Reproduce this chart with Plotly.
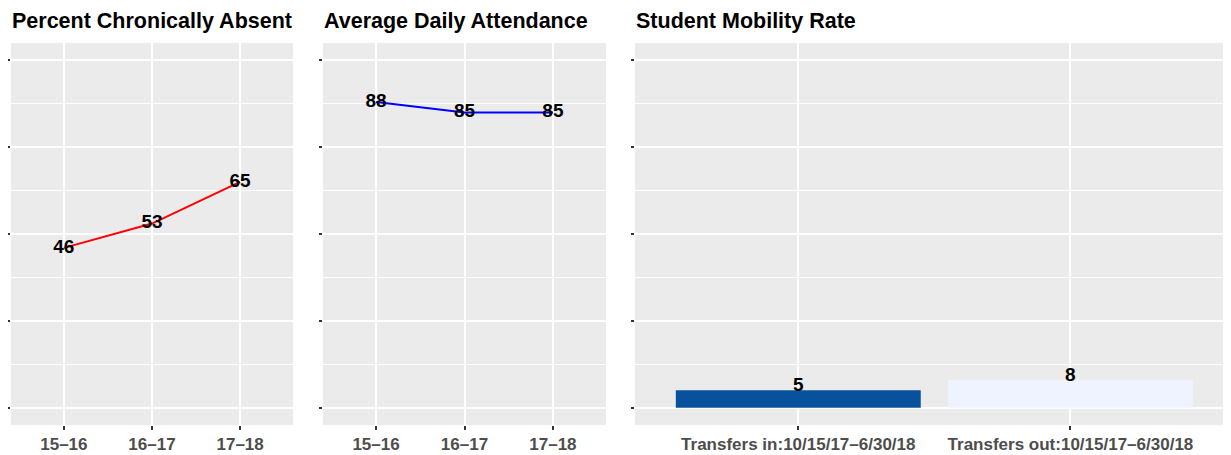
import plotly.graph_objects as go

# ---- data ----
years = ["15–16", "16–17", "17–18"]
chronic_absent = [46, 53, 65]
daily_attendance = [88, 85, 85]
mobility_cats = ["Transfers in:10/15/17–6/30/18", "Transfers out:10/15/17–6/30/18"]
mobility_vals = [5, 8]
panel_titles = ["Percent Chronically Absent", "Average Daily Attendance", "Student Mobility Rate"]

FONT = "Liberation Sans, Arial, sans-serif"
OFF = 8  # page body margin in the browser
W, H = 1231 - OFF, 455 - OFF
ML, MR, MT, MB = 11 - OFF, 0, 43 - OFF, 30
PW = W - ML - MR
PH = H - MT - MB

def dom(a, b):
    return [(a - OFF - ML) / PW, min(1.0, (b - OFF - ML) / PW)]

d1 = dom(11, 293)
d2 = dom(323, 606)
d3 = dom(635, 1231)

fig = go.Figure()

fig.add_trace(go.Scatter(
    x=years, y=chronic_absent, mode="lines+text", text=[str(v) for v in chronic_absent],
    textposition="middle center", line=dict(color="#FF0000", width=2),
    textfont=dict(family=FONT, size=19, color="black", weight="bold"),
    xaxis="x", yaxis="y", showlegend=False, cliponaxis=False))

fig.add_trace(go.Scatter(
    x=years, y=daily_attendance, mode="lines+text", text=[str(v) for v in daily_attendance],
    textposition="middle center", line=dict(color="#0000FF", width=2),
    textfont=dict(family=FONT, size=19, color="black", weight="bold"),
    xaxis="x2", yaxis="y2", showlegend=False, cliponaxis=False))

fig.add_trace(go.Bar(
    x=mobility_cats, y=mobility_vals, width=0.9,
    marker=dict(color=["#08519C", "#EFF3FF"], line=dict(width=0)),
    xaxis="x3", yaxis="y3", showlegend=False))

for c, v in zip(mobility_cats, mobility_vals):
    fig.add_annotation(x=c, y=v, xref="x3", yref="y3", text=str(v), showarrow=False,
                       yanchor="bottom", yshift=-7,
                       font=dict(family=FONT, size=19, color="black", weight="bold"))

common_x = dict(
    type="category", showgrid=True, gridcolor="white", gridwidth=2, zeroline=False,
    ticks="outside", ticklen=4, tickwidth=1.5, tickcolor="#333333", showline=False,
    tickfont=dict(family=FONT, size=17, color="#4D4D4D", weight="bold"), fixedrange=True)
common_y = dict(
    range=[-5, 105], tickvals=[0, 25, 50, 75, 100], showticklabels=False,
    showgrid=True, gridcolor="white", gridwidth=2, zeroline=False,
    ticks="outside", ticklen=3, tickwidth=1.5, tickcolor="#333333", showline=False,
    minor=dict(tickvals=[12.5, 37.5, 62.5, 87.5], showgrid=True, gridcolor="white", gridwidth=1, ticks=""),
    fixedrange=True)

fig.update_layout(
    width=W, height=H,
    margin=dict(l=ML, r=MR, t=MT, b=MB),
    paper_bgcolor="white", plot_bgcolor="white",
    bargap=0.1,
    xaxis=dict(domain=d1, anchor="y", range=[-0.6, 2.6], **common_x),
    xaxis2=dict(domain=d2, anchor="y2", range=[-0.6, 2.6], **common_x),
    xaxis3=dict(domain=d3, anchor="y3", range=[-0.6, 1.59], **common_x),
    yaxis=dict(domain=[0, 1], anchor="x", **common_y),
    yaxis2=dict(domain=[0, 1], anchor="x2", **common_y),
    yaxis3=dict(domain=[0, 1], anchor="x3", **common_y),
)

for xr, yr in [("x", "y"), ("x2", "y2"), ("x3", "y3")]:
    fig.add_shape(type="rect", xref=xr + " domain", yref=yr + " domain", x0=0, x1=1, y0=0, y1=1,
                  fillcolor="#EBEBEB", line=dict(width=0), layer="below")

title_y = 1 + (MT - (20.5 - OFF)) / PH
for d, t in zip([d1, d2, d3], panel_titles):
    fig.add_annotation(x=d[0], y=title_y, xref="paper", yref="paper", text=t, showarrow=False,
                       xanchor="left", yanchor="middle", xshift=-1,
                       font=dict(family=FONT, size=21.5, color="black", weight="bold"))

fig.write_html("out.html")
